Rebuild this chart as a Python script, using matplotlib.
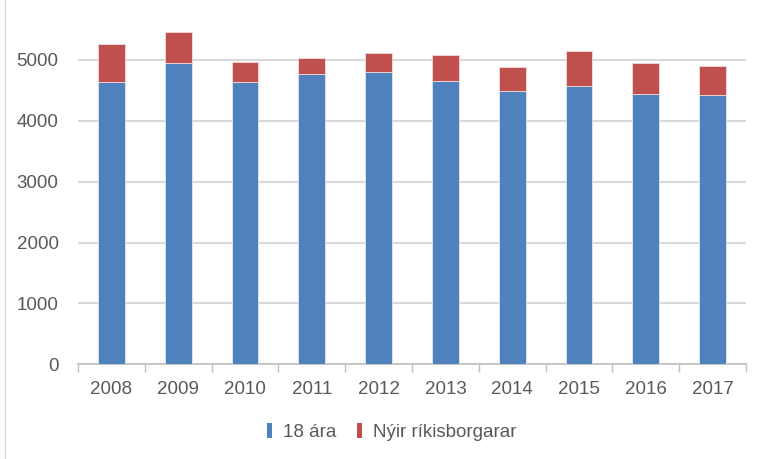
import matplotlib.pyplot as plt
from matplotlib.patches import Patch
import numpy as np

# Data
years = ["2008", "2009", "2010", "2011", "2012", "2013", "2014", "2015", "2016", "2017"]
atjan_ara = [4630, 4943, 4635, 4762, 4805, 4647, 4483, 4565, 4433, 4417]
nyir_rikisborgarar = [634, 513, 334, 268, 302, 437, 404, 580, 515, 481]

blue = "#4F81BD"
red = "#C0504D"
text_col = "#595959"

plt.rcParams['font.family'] = ['Liberation Sans Narrow', 'Liberation Sans', 'DejaVu Sans']

fig = plt.figure(figsize=(7.59, 4.59), dpi=100)
ax = fig.add_axes([78 / 759, 1 - 364.3 / 459, (746 - 78) / 759, 364.3 / 459])

x = np.arange(len(years))
ax.bar(x, atjan_ara, width=0.4, color=blue, edgecolor="#dfe8f3", linewidth=0.6, zorder=3)
ax.bar(x, nyir_rikisborgarar, width=0.4, bottom=atjan_ara, color=red,
       edgecolor="#f1dcdc", linewidth=0.6, zorder=3)

ax.set_xlim(-0.5, len(years) - 0.5)
ax.set_ylim(0, 5982)
ax.set_yticks(range(0, 6000, 1000))
ax.set_xticks(x)
ax.set_xticklabels(years)
ax.set_xticks(np.arange(-0.5, len(years)), minor=True)

ax.grid(axis="y", color="#D9D9D9", linewidth=1.5, zorder=0)
for side in ["top", "right", "left"]:
    ax.spines[side].set_visible(False)
ax.spines["bottom"].set_color("#BFBFBF")
ax.spines["bottom"].set_linewidth(1.2)

ax.tick_params(axis="x", which="major", length=0, pad=12, labelsize=13.5, labelcolor=text_col)
ax.tick_params(axis="x", which="minor", length=6, width=1, color="#BFBFBF")
ax.tick_params(axis="y", length=0, pad=14, labelsize=13.5, labelcolor=text_col)

handles = [Patch(facecolor=blue, label="18 ára"), Patch(facecolor=red, label="Nýir ríkisborgarar")]
leg = fig.legend(handles=handles, loc="center", bbox_to_anchor=(392 / 759, 1 - 432 / 459),
                 ncol=2, frameon=False, fontsize=13.5, handlelength=0.25, handleheight=0.9,
                 handletextpad=0.6, columnspacing=1.1)
for t in leg.get_texts():
    t.set_color(text_col)

# thin chart border on the left edge
fig.add_artist(plt.Line2D([5 / 759, 5 / 759], [0, 1], color="#D9D9D9", linewidth=1))

fig.savefig("out.png", dpi=100)
